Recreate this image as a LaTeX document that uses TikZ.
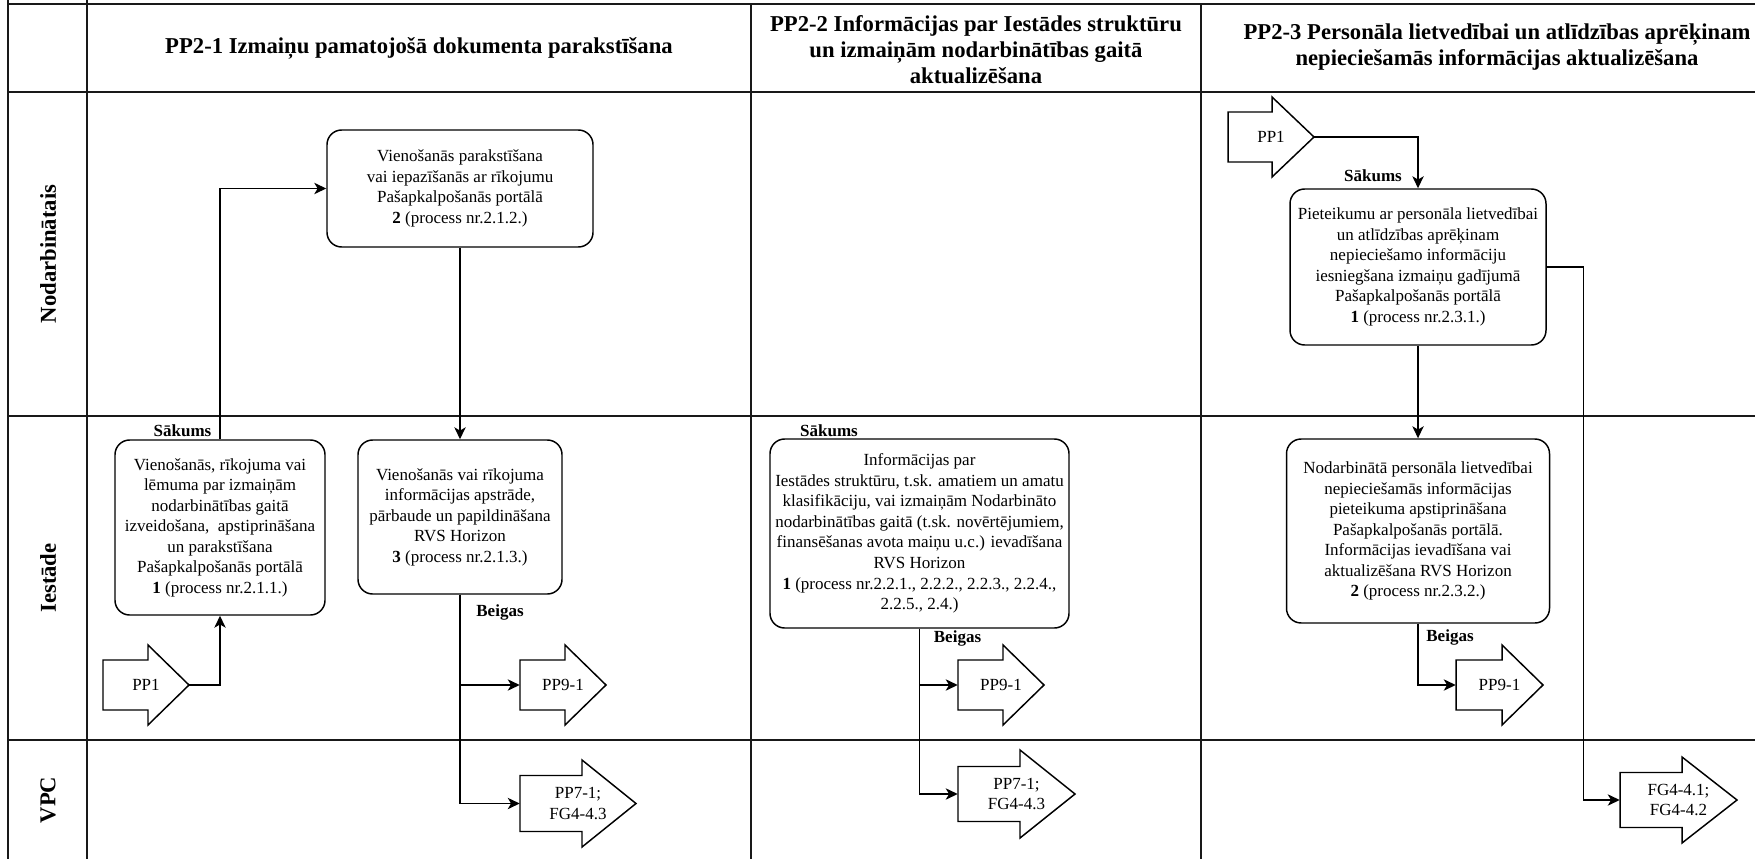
\documentclass[tikz,border=0pt]{standalone}
\usepackage{fontspec}
\setmainfont{Liberation Serif}
\usetikzlibrary{arrows.meta,calc}
\newcommand{\bodyfont}{\fontsize{12.75pt}{15.4pt}\selectfont}
\newcommand{\headfont}{\fontsize{17pt}{19.5pt}\selectfont\bfseries}
\tikzset{
  gridline/.style={line width=1.6pt, black!90},
  procbox/.style={draw, line width=1.1pt, fill=white, rounded corners=11pt, align=center, inner sep=0pt, font=\bodyfont},
  flow/.style={line width=1.1pt, -{Stealth[length=9pt,width=8.5pt,inset=2.5pt]}},
  tagtext/.style={font=\bodyfont\bfseries, inner sep=0pt},
  lanelabel/.style={font=\headfont, rotate=90, inner sep=0pt},
  headtext/.style={font=\headfont, align=center, inner sep=0pt},
  arrtext/.style={font=\bodyfont, align=center, inner sep=0pt},
  arrline/.style={line width=1.1pt, fill=white},
}
% #1 name, #2 cx, #3 cy, #4 length, #5 height, #6 shaft, #7 head length, #8 text
\newcommand{\offpage}[8]{%
  \draw[arrline] ({#2-#4/2},{#3-#6/2}) -- ({#2+#4/2-#7},{#3-#6/2}) -- ({#2+#4/2-#7},{#3-#5/2}) -- ({#2+#4/2},{#3}) -- ({#2+#4/2-#7},{#3+#5/2}) -- ({#2+#4/2-#7},{#3+#6/2}) -- ({#2-#4/2},{#3+#6/2}) -- cycle;
  \node[arrtext, minimum width={#4*0.75pt}, minimum height={#5*0.75pt}] (#1) at (#2,#3) {#8};%
}
\begin{document}
\begin{tikzpicture}[x=0.75pt,y=-0.75pt]
\useasboundingbox (0,0) rectangle (1755,859);
\fill[white] (0,0) rectangle (1755,859);

% grid
\draw[gridline] (8,4) -- (1755,4);
\draw[gridline] (8,92) -- (1755,92);
\draw[gridline] (8,416) -- (1755,416);
\draw[gridline] (8,740) -- (1755,740);
\draw[gridline] (8,0) -- (8,859);
\draw[gridline] (87,0) -- (87,859);
\draw[gridline] (751,4) -- (751,859);
\draw[gridline] (1201,4) -- (1201,859);

% headers
\node[headtext] (h1) at (419,48) {PP2-1 Izmaiņu pamatojošā dokumenta parakstīšana};
\node[headtext] (h2) at (976,50) {PP2-2 Informācijas par Iestādes struktūru\\un izmaiņām nodarbinātības gaitā\\aktualizēšana};
\node[headtext] (h3) at (1497,47) {PP2-3 Personāla lietvedībai un atlīdzības aprēķinam\\nepieciešamās informācijas aktualizēšana};

% lane labels
\node[lanelabel] (l1) at (48,254) {Nodarbinātais};
\node[lanelabel] (l2) at (48,578) {Iestāde};
\node[lanelabel] (l3) at (48,800) {VPC};

% process boxes
\node[procbox, minimum width={266*0.75pt}, minimum height={117*0.75pt}] (A1) at (460,188.5)
  {Vienošanās parakstīšana\\vai iepazīšanās ar rīkojumu\\Pašapkalpošanās portālā\\\textbf{2} (process nr.2.1.2.)};
\node[procbox, minimum width={210*0.75pt}, minimum height={175*0.75pt}] (B1) at (220,527.5)
  {Vienošanās, rīkojuma vai\\lēmuma par izmaiņām\\nodarbinātības gaitā\\izveidošana,\ \ apstiprināšana\\un parakstīšana\\Pašapkalpošanās portālā\\\textbf{1} (process nr.2.1.1.)};
\node[procbox, minimum width={204*0.75pt}, minimum height={154*0.75pt}] (B2) at (460,517)
  {Vienošanās vai rīkojuma\\informācijas apstrāde,\\pārbaude un papildināšana\\RVS Horizon\\\textbf{3} (process nr.2.1.3.)};
\node[procbox, minimum width={299*0.75pt}, minimum height={189*0.75pt}] (C1) at (919.5,533.5)
  {Informācijas par\\Iestādes struktūru, t.sk. amatiem un amatu\\klasifikāciju, vai izmaiņām Nodarbināto\\nodarbinātības gaitā (t.sk. novērtējumiem,\\finansēšanas avota maiņu u.c.) ievadīšana\\RVS Horizon\\\textbf{1} (process nr.2.2.1., 2.2.2., 2.2.3., 2.2.4.,\\2.2.5., 2.4.)};
\node[procbox, minimum width={256*0.75pt}, minimum height={156*0.75pt}] (D1) at (1418,267)
  {Pieteikumu ar personāla lietvedībai\\un atlīdzības aprēķinam\\nepieciešamo informāciju\\iesniegšana izmaiņu gadījumā\\Pašapkalpošanās portālā\\\textbf{1} (process nr.2.3.1.)};
\node[procbox, minimum width={263*0.75pt}, minimum height={184*0.75pt}] (D2) at (1418,531)
  {Nodarbinātā personāla lietvedībai\\nepieciešamās informācijas\\pieteikuma apstiprināšana\\Pašapkalpošanās portālā.\\Informācijas ievadīšana vai\\aktualizēšana RVS Horizon\\\textbf{2} (process nr.2.3.2.)};

% off-page arrows
\offpage{pp1a}{146}{685}{86}{80}{50}{41}{PP1}
\offpage{pp91a}{563}{685}{86}{80}{50}{41}{PP9-1}
\offpage{pp71a}{578}{803.5}{116}{87}{56}{54}{PP7-1;\\FG4-4.3}
\offpage{pp91b}{1001}{685}{86}{80}{50}{41}{PP9-1}
\offpage{pp71b}{1016.5}{794}{117}{88}{55}{55}{PP7-1;\\FG4-4.3}
\offpage{pp1c}{1271}{137}{86}{80}{50}{42}{PP1}
\offpage{pp91c}{1499.5}{685}{87}{80}{50}{41}{PP9-1}
\offpage{fga}{1678.5}{800}{117}{86}{55}{55}{FG4-4.1;\\FG4-4.2}

% connectors
\draw[flow] (pp1a.east) -| (B1.south);
\draw[flow] (B1.north) |- (A1.west);
\draw[flow] (A1.south) -- (B2.north);
\draw[flow] (B2.south) |- (pp91a.west);
\draw[flow] (B2.south) |- (pp71a.west);
\draw[flow] (C1.south) |- (pp91b.west);
\draw[flow] (C1.south) |- (pp71b.west);
\draw[flow] (pp1c.east) -| (D1.north);
\draw[flow] (D1.south) -- (D2.north);
\draw[flow] (D1.east) -- ++(37,0) |- (fga.west);
\draw[flow] (D2.south) |- (pp91c.west);

% start / end tags
\node[tagtext] (s1) at (182.5,431) {Sākums};
\node[tagtext] (e1) at (500,612) {Beigas};
\node[tagtext] (s2) at (829,431) {Sākums};
\node[tagtext] (e2) at (957.5,638) {Beigas};
\node[tagtext] (s3) at (1373,176) {Sākums};
\node[tagtext] (e3) at (1450,637) {Beigas};
\end{tikzpicture}
\end{document}
